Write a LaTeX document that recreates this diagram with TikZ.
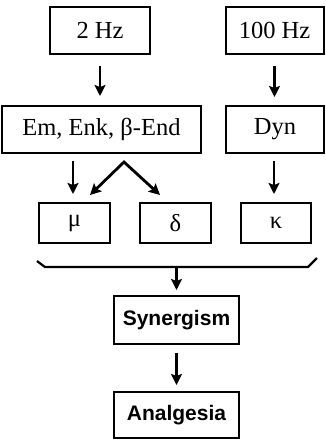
\documentclass[tikz,border=0pt]{standalone}
\usepackage{fontspec}
\setmainfont{Liberation Serif}
\newfontfamily\hvfont{Liberation Sans}
\usetikzlibrary{arrows.meta}
\tikzset{
  box/.style={draw, line width=2pt, inner sep=0pt, font=\fontsize{24.5}{27}\selectfont},
  bbox/.style={draw, line width=2pt, inner sep=0pt, font=\hvfont\bfseries\fontsize{21}{24}\selectfont},
  tip/.style={Stealth[length=11pt,width=11pt,inset=2pt]},
  arr/.style={line width=2.8pt, -{Stealth[length=11pt,width=11pt,inset=2pt]}},
  brk/.style={line width=2.2pt}
}
\begin{document}
\begin{tikzpicture}[x=1pt,y=-1pt]
\useasboundingbox (0,0) rectangle (325,440);
\node[box, minimum width=100pt, minimum height=47pt] (hz2) at (100,30.5) {2 Hz};
\node[box, minimum width=98pt, minimum height=47pt] (hz100) at (274.5,30.5) {100 Hz};
\node[box, minimum width=199pt, minimum height=47pt] (em) at (101.5,129.5) {Em, Enk, β-End};
\node[box, minimum width=98pt, minimum height=47pt] (dyn) at (275,129.5) {Dyn};
\node[box, minimum width=71pt, minimum height=40pt] (mu) at (74.5,223) {μ};
\node[box, minimum width=71pt, minimum height=40pt] (delta) at (175.5,223) {δ};
\node[box, minimum width=70pt, minimum height=40pt] (kappa) at (276,223) {κ};
\node[bbox, minimum width=125pt, minimum height=48pt] (syn) at (176.5,320) {Synergism};
\node[bbox, minimum width=125pt, minimum height=46pt] (ana) at (176.5,415) {Analgesia};
% arrows
\draw[arr, shorten <=11pt, shorten >=9pt] (hz2.south) -- (hz2.south |- em.north);
\draw[arr, shorten <=11pt, shorten >=8pt] (hz100.south) -- (hz100.south |- dyn.north);
\draw[arr, shorten <=7pt, shorten >=8pt] ([xshift=-1.5pt]mu.north |- em.south) -- ([xshift=-1.5pt]mu.north);
\draw[arr, shorten <=7pt, shorten >=8pt] ([xshift=-1pt]dyn.south) -- ([xshift=-1pt]dyn.south |- kappa.north);
\coordinate (apex) at (124,162);
\coordinate (vL) at (90,195);
\coordinate (vR) at (160,195);
\draw[line width=2.8pt, line join=miter, {Stealth[length=11pt,width=11pt,inset=2pt]}-{Stealth[length=11pt,width=11pt,inset=2pt]}] (vL) -- (apex) -- (vR);
% bracket
\coordinate (b1) at (37,261);
\coordinate (b2) at (45,267);
\coordinate (b3) at (308,267);
\coordinate (b4) at (317,258);
\coordinate (bm) at (176.5,267);
\draw[brk, line join=miter] (b1) -- (b2) -- (b3) -- (b4);
\draw[arr, shorten >=5pt] (bm) -- (syn.north);
\draw[arr, shorten <=8pt, shorten >=6pt] (syn.south) -- (ana.north);
\end{tikzpicture}
\end{document}
